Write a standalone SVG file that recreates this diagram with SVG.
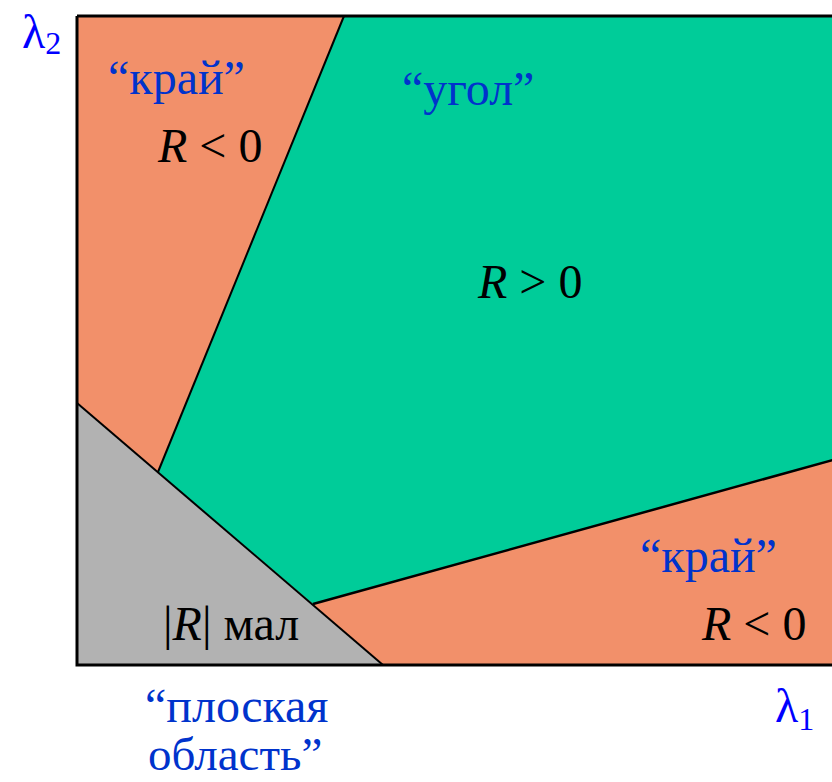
<svg xmlns="http://www.w3.org/2000/svg" width="832" height="782" viewBox="0 0 832 782">
<g id="regions">
<rect id="edge-regions" x="77" y="16" width="760" height="649" fill="#F2906A"/>
<polygon id="corner-region" points="344,16 840,16 840,458 313,604 158,472" fill="#00CC99"/>
<polygon id="flat-region" points="77,403 383,665 77,665" fill="#B2B2B2"/>
</g>
<g id="connectors" stroke="#000000" fill="none" stroke-width="2">
<line x1="344" y1="16" x2="158" y2="472"/>
<line x1="313" y1="604" x2="840" y2="458" stroke-width="2.5"/>
<line x1="77" y1="403" x2="383" y2="665"/>
<polyline points="77,16 77,665 840,665" stroke-width="3"/>
<line x1="77" y1="16" x2="840" y2="16" stroke-width="3"/>
</g>
<g id="labels" font-family="'Liberation Serif', 'Times New Roman', Tinos, 'DejaVu Serif', 'Noto Serif', serif" font-size="48">
<g id="axis-labels" fill="#0000FF">
<text x="22" y="48">λ<tspan font-size="32" dy="6">2</tspan></text>
<text x="775" y="722">λ<tspan font-size="32" dy="8">1</tspan></text>
</g>
<g id="region-names" fill="#0033CC">
<text x="108" y="94">“край”</text>
<text x="402" y="105">“угол”</text>
<text x="640" y="572">“край”</text>
<text x="145" y="722">“плоская</text>
<text x="148" y="770" font-size="47">область”</text>
</g>
<g id="region-values" fill="#000000">
<text x="158" y="162"><tspan font-style="italic">R</tspan> &lt; 0</text>
<text x="478" y="298"><tspan font-style="italic">R</tspan> &gt; 0</text>
<text x="702" y="640"><tspan font-style="italic">R</tspan> &lt; 0</text>
<text x="163" y="640">|<tspan font-style="italic">R</tspan>| мал</text>
</g>
</g>
</svg>
